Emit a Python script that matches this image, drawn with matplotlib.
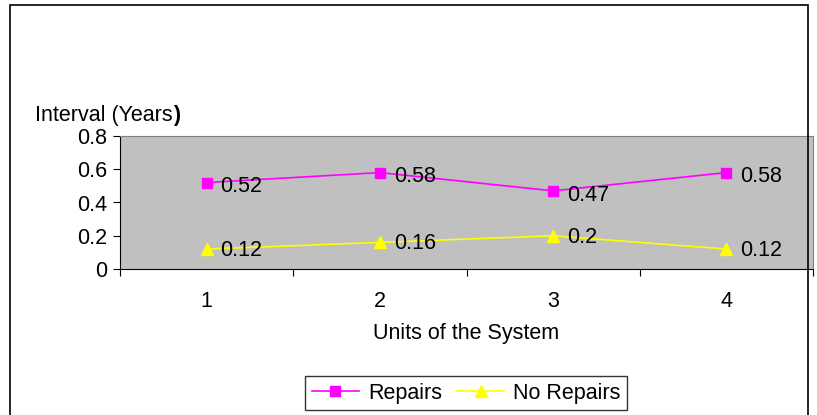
import matplotlib.pyplot as plt
import matplotlib.patches as mpatches

units = [1, 2, 3, 4]
repairs = [0.52, 0.58, 0.47, 0.58]
no_repairs = [0.12, 0.16, 0.2, 0.12]
yticks = [0, 0.2, 0.4, 0.6, 0.8]
ytick_labels = ['0', '0.2', '0.4', '0.6', '0.8']

plt.rcParams['font.family'] = ['Liberation Sans', 'DejaVu Sans']
fs = 15.5

W, H = 817, 415
fig = plt.figure(figsize=(W / 100, H / 100), dpi=100)

# outer chart frame (Excel style), bottom edge cut off like the source
frame = mpatches.Rectangle((10 / W, -0.05), 798 / W, 1.05 - 5 / H, transform=fig.transFigure,
                           fill=False, edgecolor='black', linewidth=1.2)
fig.patches.append(frame)

ax = fig.add_axes([120 / W, 1 - 269 / H, 693 / W, 133 / H])
ax.set_facecolor('#C0C0C0')
ax.plot(units, repairs, color='#FF00FF', marker='s', markersize=7, linewidth=1.2, label='Repairs')
ax.plot(units, no_repairs, color='#FFFF00', marker='^', markersize=8, linewidth=1.2, label='No Repairs')

for x, y in zip(units, repairs):
    ax.annotate(str(y), (x, y), xytext=(10, -3), textcoords='offset points',
                ha='left', va='center', fontsize=fs)
for x, y in zip(units, no_repairs):
    ax.annotate(str(y), (x, y), xytext=(10, -1), textcoords='offset points',
                ha='left', va='center', fontsize=fs)

ax.set_xlim(0.5, 4.5)
ax.set_ylim(0, 0.8)
ax.set_yticks(yticks)
ax.set_yticklabels(ytick_labels, fontsize=fs)
ax.set_xticks([0.5, 1.5, 2.5, 3.5, 4.5])
ax.set_xticklabels([])
ax.set_xticks(units, minor=True)
ax.set_xticklabels([str(u) for u in units], minor=True, fontsize=fs)
ax.tick_params(axis='x', which='minor', length=0, pad=16)
ax.tick_params(axis='x', which='major', direction='out', length=5)
ax.tick_params(axis='y', direction='out', length=5, pad=4)

for side in ['top', 'right']:
    ax.spines[side].set_color('#808080')
for side in ['left', 'bottom']:
    ax.spines[side].set_color('black')

ax.set_xlabel('Units of the System', fontsize=fs, labelpad=8)
t = fig.text(35 / W, 1 - 116 / H, 'Interval (Years', fontsize=fs, ha='left', va='center')
ax.annotate(')', xy=(1, 0.5), xycoords=t, ha='left', va='center', fontsize=fs,
            fontweight='bold', annotation_clip=False)

leg = fig.legend(loc='center', bbox_to_anchor=(466 / W, 1 - 393 / H), ncol=2, fontsize=fs,
                 frameon=True, fancybox=False, edgecolor='black', handlelength=2.2,
                 columnspacing=0.7, handletextpad=0.4, borderpad=0.3)
leg.get_frame().set_linewidth(1.0)

fig.savefig('out.png', dpi=100)
